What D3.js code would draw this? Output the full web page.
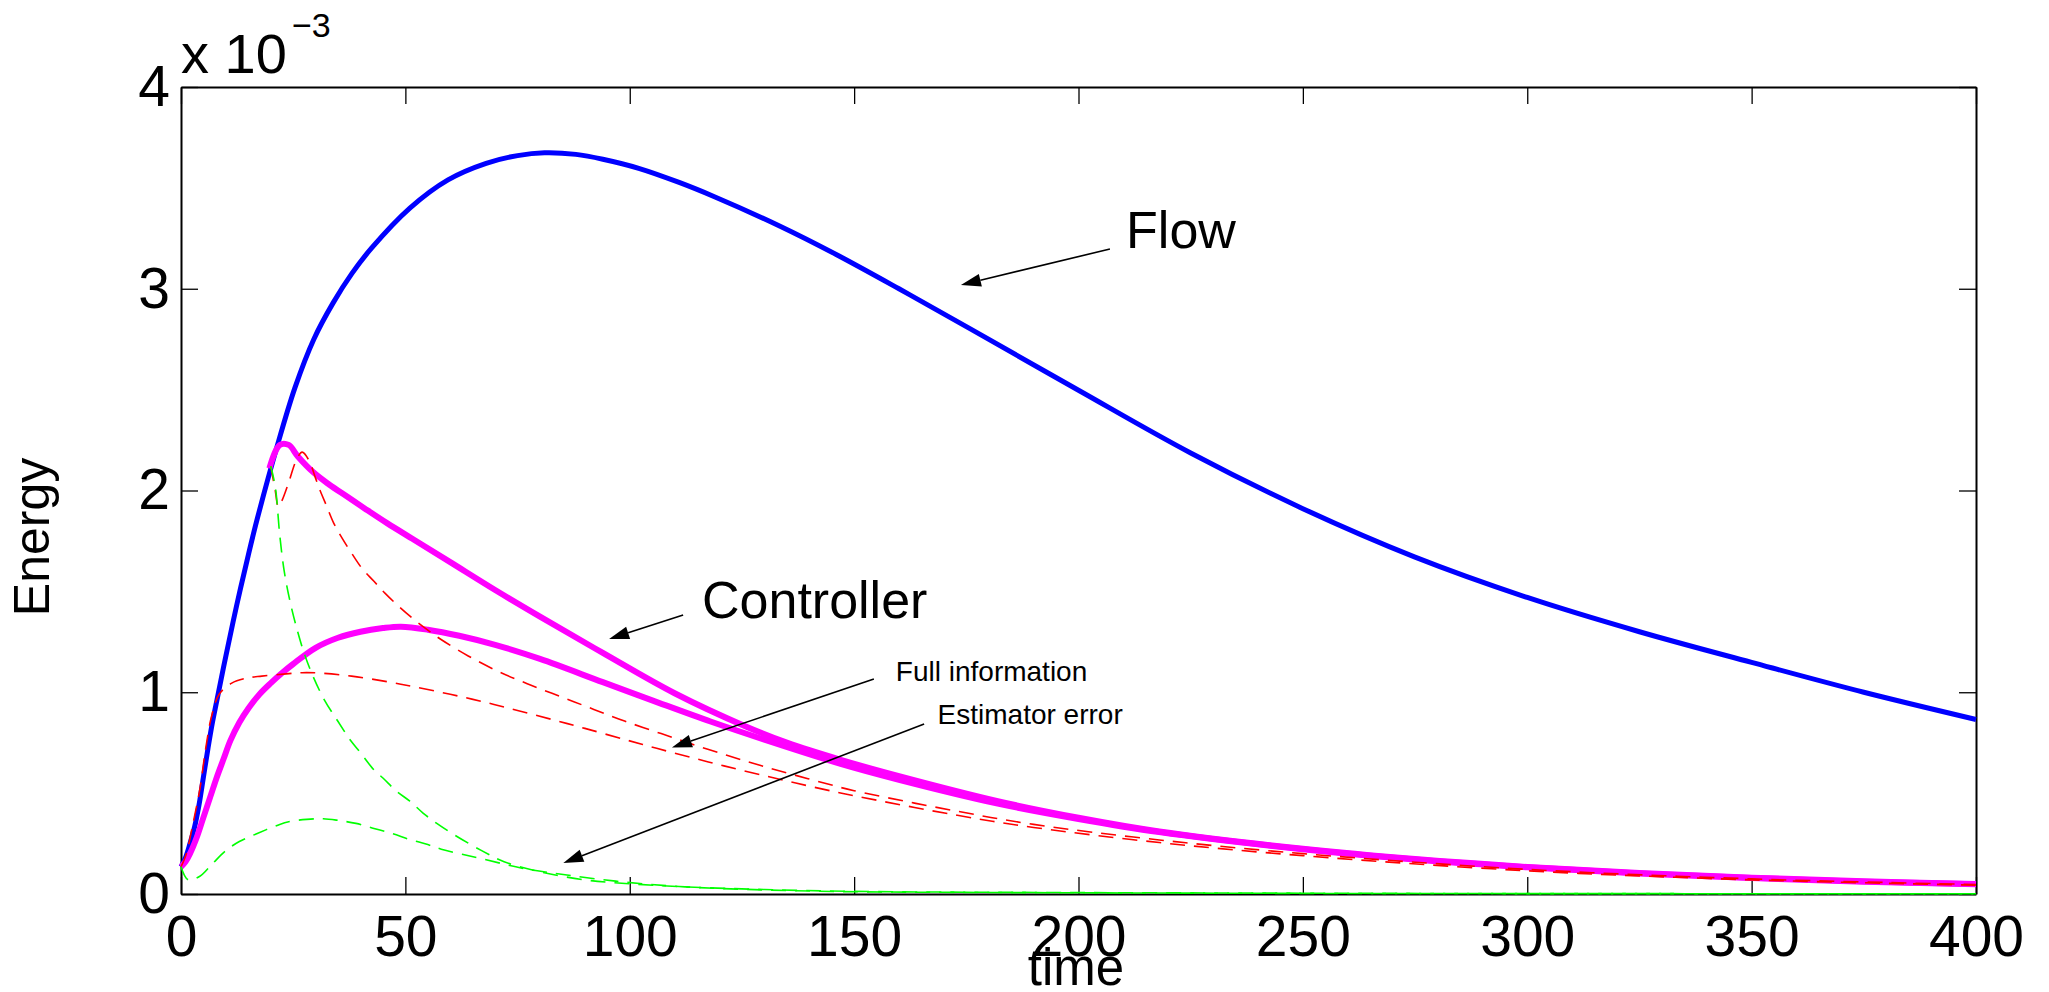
<!DOCTYPE html>
<html>
<head>
<meta charset="utf-8">
<script src="https://cdn.jsdelivr.net/npm/d3@7"></script>
<style>
body { margin: 0; background: #fff; }
svg { display: block; font-family: "Liberation Sans", Arial, Helvetica, sans-serif; }
</style>
</head>
<body>
<script>
var w = 2049;
var h = 992;

// tick values
var xTicks = [0, 50, 100, 150, 200, 250, 300, 350, 400];
var yTicks = [0, 1, 2, 3, 4];

// flow energy (blue)
var flowT = [0, 1, 2, 3, 4, 5, 6, 7, 8, 10, 12.4, 15, 17, 21.3, 25.4, 29.6, 33.9, 38.1, 42.4, 51, 59.5, 68, 75, 81, 88, 94, 102, 111, 119, 133.5, 146, 160, 176, 200, 225, 250, 275, 300, 325, 350, 375, 400];
var flowE = [0.135, 0.18, 0.25, 0.33, 0.44, 0.58, 0.72, 0.85, 0.96, 1.18, 1.43, 1.68, 1.86, 2.21, 2.51, 2.75, 2.93, 3.076, 3.2, 3.4, 3.54, 3.622, 3.66, 3.674, 3.666, 3.642, 3.597, 3.527, 3.455, 3.31, 3.17, 3.0, 2.8, 2.497, 2.186, 1.91, 1.67, 1.47, 1.3, 1.148, 1.0, 0.865];

// controller energy, full information (magenta, lower)
var ctrlFullT = [0, 1, 2, 3.5, 5, 6.5, 8, 9.5, 11, 13, 15, 17.5, 20, 22.5, 25, 30, 35, 40, 45, 49, 55, 62, 70, 80, 94, 105, 118, 130, 147, 160, 182, 200, 218, 250, 275, 300, 325, 350, 375, 400];
var ctrlFullE = [0.135, 0.16, 0.2, 0.28, 0.38, 0.48, 0.58, 0.67, 0.76, 0.85, 0.92, 0.99, 1.045, 1.095, 1.14, 1.22, 1.27, 1.3, 1.318, 1.325, 1.31, 1.28, 1.235, 1.165, 1.05, 0.96, 0.855, 0.765, 0.645, 0.566, 0.448, 0.372, 0.307, 0.222, 0.171, 0.132, 0.102, 0.079, 0.061, 0.048];

// controller energy, with estimator (magenta, upper)
var ctrlEstT = [19.7, 22, 24, 26, 29.5, 33, 37, 41, 46, 52, 60, 70, 80, 94, 110, 126, 135, 147, 160, 182, 200, 218, 250, 275, 300, 325, 350, 375, 400];
var ctrlEstE = [2.11, 2.226, 2.226, 2.17, 2.09, 2.03, 1.97, 1.91, 1.837, 1.755, 1.645, 1.507, 1.375, 1.195, 0.995, 0.829, 0.75, 0.665, 0.584, 0.46, 0.378, 0.31, 0.224, 0.173, 0.134, 0.104, 0.081, 0.063, 0.049];

// red dashed, lower
var redLowT = [0, 1.2, 2.4, 4.2, 5.5, 6.8, 8.5, 11.3, 14.6, 18, 22.8, 27, 31, 38, 46, 52, 60, 67.5, 75, 83, 90, 99, 106, 114, 121, 129, 137, 145, 150, 173, 190, 218, 250, 300, 350, 400];
var redLowE = [0.135, 0.2, 0.32, 0.52, 0.72, 0.88, 0.99, 1.045, 1.07, 1.08, 1.09, 1.097, 1.095, 1.08, 1.052, 1.027, 0.99, 0.952, 0.91, 0.863, 0.821, 0.765, 0.722, 0.675, 0.635, 0.592, 0.55, 0.51, 0.487, 0.39, 0.33, 0.255, 0.19, 0.115, 0.07, 0.044];

// red dashed, upper
var redHighT = [20, 21, 21.7, 22.5, 24, 25.7, 27, 28.5, 30, 31, 32.5, 34, 36, 38, 40.3, 43, 45.5, 48.4, 51.4, 54.4, 57.7, 64, 71, 78, 85, 92, 99, 107, 114, 122, 129, 137, 145, 150, 173, 190, 218, 250, 300, 350, 400];
var redHighE = [2.12, 2.0, 1.92, 1.95, 2.04, 2.15, 2.19, 2.15, 2.06, 2.0, 1.92, 1.84, 1.76, 1.69, 1.615, 1.55, 1.49, 1.428, 1.37, 1.318, 1.265, 1.18, 1.1, 1.035, 0.975, 0.915, 0.856, 0.795, 0.742, 0.685, 0.638, 0.588, 0.54, 0.512, 0.41, 0.345, 0.268, 0.2, 0.122, 0.075, 0.047];

// estimator error (green dashed), upper
var errHighT = [20, 21, 22, 23, 24.4, 26, 27.5, 29.5, 32, 35, 37.5, 40, 43, 45, 48, 51, 54, 57, 61, 67, 72, 80, 90, 99, 113, 130, 150, 175, 200, 250, 300, 350, 400];
var errHighE = [2.12, 2.02, 1.78, 1.6, 1.44, 1.3, 1.19, 1.075, 0.96, 0.855, 0.77, 0.7, 0.615, 0.575, 0.51, 0.46, 0.4, 0.35, 0.292, 0.215, 0.16, 0.11, 0.07, 0.052, 0.035, 0.022, 0.013, 0.009, 0.007, 0.004, 0.002, 0.0015, 0.001];

// estimator error (green dashed), lower
var errLowT = [0, 1.6, 4.2, 7, 10, 13, 17, 22, 24, 28, 31.7, 35, 39, 43, 47, 51, 55, 58, 62, 67, 76, 86, 98, 111, 126, 147, 175, 200, 250, 300, 400];
var errLowE = [0.135, 0.07, 0.088, 0.15, 0.215, 0.26, 0.3, 0.345, 0.358, 0.37, 0.373, 0.365, 0.35, 0.325, 0.3, 0.27, 0.245, 0.222, 0.2, 0.175, 0.128, 0.094, 0.061, 0.037, 0.023, 0.012, 0.008, 0.006, 0.003, 0.002, 0.001];

// annotations: label, text anchor (t, E), arrow start and tip (t, E)
var notes = [
    {text: "Flow", size: 52, at: [210.6, 3.202], from: [207.0, 3.197], to: [173.8, 3.019]},
    {text: "Controller", size: 52, at: [116.1, 1.368], from: [111.9, 1.383], to: [95.4, 1.264]},
    {text: "Full information", size: 28, at: [159.3, 1.056], from: [154.4, 1.066], to: [109.4, 0.726]},
    {text: "Estimator error", size: 28, at: [168.6, 0.843], from: [165.6, 0.843], to: [85.2, 0.154]}
];

var plotLeft = 181, plotRight = 1976, plotTop = 87, plotBottom = 894;

var xScale = d3.scaleLinear().domain([0, 400]).range([plotLeft, plotRight]);
var yScale = d3.scaleLinear().domain([0, 4]).range([plotBottom, plotTop]);

var svg = d3.select("body")
    .append("svg")
    .attr("width", w)
    .attr("height", h);

svg.append("rect").attr("width", w).attr("height", h).attr("fill", "#fff");

// Box axes with inward ticks (MATLAB style)
function styleAxis(g) {
    g.select(".domain").attr("stroke", "#000").attr("stroke-width", 2);
    g.selectAll(".tick line").attr("stroke", "#000").attr("stroke-width", 1.3);
    g.selectAll(".tick text").attr("fill", "#000").attr("font-size", 57)
        .attr("font-family", "'Liberation Sans', Arial, sans-serif");
}

svg.append("g")
    .attr("transform", "translate(0," + plotBottom + ")")
    .call(d3.axisBottom(xScale).tickValues(xTicks).tickSizeInner(-17).tickSizeOuter(0).tickPadding(22))
    .call(styleAxis);

svg.append("g")
    .attr("transform", "translate(0," + plotTop + ")")
    .call(d3.axisTop(xScale).tickValues(xTicks).tickSizeInner(-17).tickSizeOuter(0).tickFormat(function() { return ""; }))
    .call(styleAxis);

svg.append("g")
    .attr("transform", "translate(" + plotLeft + ",0)")
    .call(d3.axisLeft(yScale).tickValues(yTicks).tickSizeInner(-17).tickSizeOuter(0).tickPadding(11).tickFormat(d3.format("d")))
    .call(styleAxis);

svg.append("g")
    .attr("transform", "translate(" + plotRight + ",0)")
    .call(d3.axisRight(yScale).tickValues(yTicks).tickSizeInner(-17).tickSizeOuter(0).tickFormat(function() { return ""; }))
    .call(styleAxis);

// Curves
var series = [
    {t: flowT, e: flowE, color: "#0000ff", width: 5, dash: null},
    {t: ctrlFullT, e: ctrlFullE, color: "#ff00ff", width: 6, dash: null},
    {t: ctrlEstT, e: ctrlEstE, color: "#ff00ff", width: 6, dash: null},
    {t: redLowT, e: redLowE, color: "#ff0000", width: 1.6, dash: "15,9"},
    {t: redHighT, e: redHighE, color: "#ff0000", width: 1.6, dash: "15,9"},
    {t: errHighT, e: errHighE, color: "#00ff00", width: 1.6, dash: "15,9"},
    {t: errLowT, e: errLowE, color: "#00ff00", width: 1.6, dash: "15,9"}
];

var line = d3.line()
    .x(function(d) { return xScale(d[0]); })
    .y(function(d) { return yScale(d[1]); })
    .curve(d3.curveCatmullRom.alpha(0.5));

svg.selectAll("path.curve")
    .data(series)
    .enter()
    .append("path")
    .attr("class", "curve")
    .attr("d", function(d) { return line(d3.zip(d.t, d.e)); })
    .attr("fill", "none")
    .attr("stroke", function(d) { return d.color; })
    .attr("stroke-width", function(d) { return d.width; })
    .attr("stroke-dasharray", function(d) { return d.dash; })
    .attr("stroke-linejoin", "round");

// Annotations with arrows
notes.forEach(function(n) {
    var x1 = xScale(n.from[0]), y1 = yScale(n.from[1]);
    var x2 = xScale(n.to[0]), y2 = yScale(n.to[1]);
    var dx = x2 - x1, dy = y2 - y1;
    var len = Math.sqrt(dx * dx + dy * dy);
    var ux = dx / len, uy = dy / len;
    var hl = 20, hw = 6.5;
    var bx = x2 - ux * hl, by = y2 - uy * hl;

    svg.append("line")
        .attr("x1", x1).attr("y1", y1)
        .attr("x2", bx).attr("y2", by)
        .attr("stroke", "#000")
        .attr("stroke-width", 1.6);

    svg.append("polygon")
        .attr("points", [
            [x2, y2],
            [bx - uy * hw, by + ux * hw],
            [bx + uy * hw, by - ux * hw]
        ].map(function(p) { return p.join(","); }).join(" "))
        .attr("fill", "#000");

    svg.append("text")
        .attr("x", xScale(n.at[0]))
        .attr("y", yScale(n.at[1]))
        .attr("font-size", n.size)
        .attr("fill", "#000")
        .text(n.text);
});

// Axis labels
svg.append("text")
    .attr("x", 1076)
    .attr("y", 985)
    .attr("text-anchor", "middle")
    .attr("font-size", 51)
    .text("time");

svg.append("text")
    .attr("transform", "translate(49,537) rotate(-90)")
    .attr("text-anchor", "middle")
    .attr("font-size", 50)
    .text("Energy");

// Exponent label
svg.append("text")
    .attr("x", plotLeft)
    .attr("y", 73)
    .attr("font-size", 56)
    .text("x 10");

svg.append("text")
    .attr("x", 292)
    .attr("y", 37)
    .attr("font-size", 34)
    .text("\u22123");
</script>
</body>
</html>
